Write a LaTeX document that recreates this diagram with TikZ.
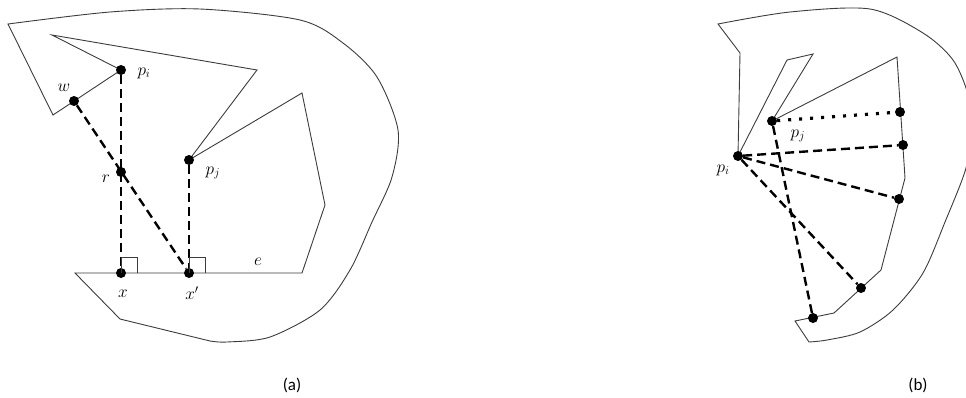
\documentclass[tikz,border=0pt]{standalone}
\usepackage{fontspec}
\setmainfont{Carlito}
\usepackage{tikz}
\usetikzlibrary{positioning,calc,backgrounds}
\definecolor{edge}{HTML}{3C3C3C}

\begin{document}
\begin{tikzpicture}[x=1pt,y=-1pt,
 v/.style={circle,fill=black,inner sep=0pt,minimum size=10pt},
 bd/.style={draw=edge,line width=.9pt},
 h/.style={line width=2.4pt,dash pattern=on 9pt off 5pt},
 dt/.style={line width=3.2pt,dash pattern=on 3pt off 8pt},
 lb/.style={font=\fontsize{18}{21}\selectfont,inner sep=1pt}
]
\useasboundingbox (0,0) rectangle (966,397);
% (a)
\node[v] (pi) at (121,70) {};
\node[v] (w) at (74,101) {};
\node[v] (r) at (121,172) {};
\node[v] (pj) at (189,160) {};
\node[v] (x) at (121,273) {};
\node[v] (xp) at (189,273) {};
\node[lb] (lpi) at (144,73) {$p_i$};
\node[lb] (lw) at (64,88) {$w$};
\node[lb] (lr) at (106,179) {$r$};
\node[lb] (lpj) at (213,173) {$p_j$};
\node[lb] (lx) at (123,294) {$x$};
\node[lb] (lxp) at (192,293) {$x'$};
\node[lb] (le) at (258,262) {$e$};
\draw[h] (pi)--(x); \draw[h] (w)--(xp); \draw[h] (pj)--(xp);
\draw[bd] (x.center)--++(0,-16)-|($(x.center)+(16,0)$);
\draw[bd] (xp.center)--++(0,-16)-|($(xp.center)+(16,0)$);
% (b)
\node[v] (bi) at (738,156) {};
\node[v] (bj) at (772,121) {};
\node[v] (q1) at (900,112) {};
\node[v] (q2) at (903,145) {};
\node[v] (q3) at (899,199) {};
\node[v] (q4) at (861,288) {};
\node[v] (q5) at (813,318) {};
\node[lb] (lbi) at (723,170) {$p_i$};
\node[lb] (lbj) at (798,136) {$p_j$};
\draw[dt] (bj)--(q1);
\draw[h] (bi)--(q2); \draw[h] (bi)--(q3); \draw[h] (bi)--(q4); \draw[h] (bj)--(q5);
\node[font=\fontsize{17}{20}\selectfont] (ca) at (292,385) {(a)};
\node[font=\fontsize{17}{20}\selectfont] (cb) at (918,385) {(b)};
\begin{scope}[on background layer]
\clip (0,0) rectangle (966,397);
\draw[bd] plot[smooth] coordinates {(8,24) (110,12) (200,9) (300,20) (343,43) (377,77) (398,130) (392,177) (372,222) (350,270) (320,310) (270,337) (227,342) (210,341)}
 -- (120,319) -- (75,273) -- (302,273) -- (325,205) -- (302,93) -- (pj.center) -- (257,70) -- (52,35) -- (pi.center) -- (53,115) -- cycle;
\draw[bd] plot[smooth] coordinates {(718,24) (790,12) (870,9) (923,33) (953,60) (968,95) (970,130) (966,168) (945,222) (923,273) (893,310) (860,332) (827,340) (809,342)}
 -- (795,321) -- (834,313) -- (881,270) -- (905,178) -- (897,57) -- (bj.center) -- (813,54) -- (787,60) -- (bi.center) -- (740,53) -- cycle;
\end{scope}
\end{tikzpicture}
\end{document}
